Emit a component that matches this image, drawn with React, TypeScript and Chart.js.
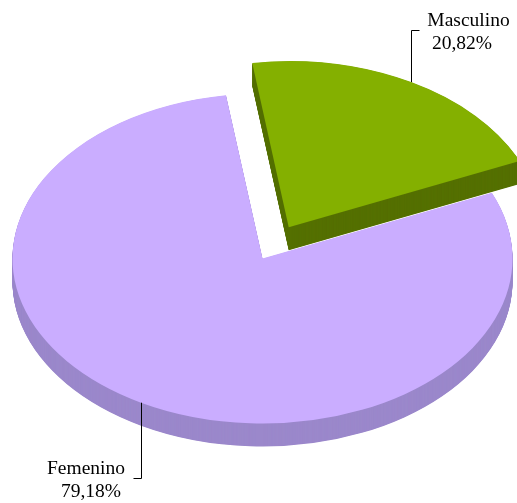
import React, { useEffect, useRef } from "react";
import { Chart, registerables } from "chart.js";

Chart.register(...registerables);

// ---- data ----
const categories = ["Masculino", "Femenino"];
const values = [20.82, 79.18];
const valueLabels = ["20,82%", "79,18%"];

// ---- style ----
const topColors = ["#84B000", "#CAADFF"];
const sideColors = ["#557000", "#9B88CB"];
const explode = [216, 0];
const TILT = 0.66;
const DEPTH = 23;
const FONT = '19.5px "Liberation Serif", "Times New Roman", serif';

const pie3d = {
  id: "pie3d",
  beforeDatasetsDraw(chart: any) {
    const ctx = chart.ctx as CanvasRenderingContext2D;
    const arcs = chart.getDatasetMeta(0).data as any[];
    ctx.save();
    if (!arcs.length) return;
    const cx = arcs[0].x;
    const cy = arcs[0].y;
    ctx.translate(cx, cy);
    ctx.scale(1, TILT);
    ctx.translate(-cx, -cy);
    for (let d = DEPTH; d >= 0.5; d -= 0.5) {
      ctx.save();
      ctx.translate(0, d / TILT);
      arcs.forEach((a, i) => {
        const o = a.options;
        const bg = o.backgroundColor;
        o.backgroundColor = sideColors[i];
        a.draw(ctx);
        o.backgroundColor = bg;
      });
      ctx.restore();
    }
  },
  afterDatasetsDraw(chart: any) {
    const ctx = chart.ctx as CanvasRenderingContext2D;
    ctx.restore();
    const arcs = chart.getDatasetMeta(0).data as any[];
    if (!arcs.length) return;
    const cy = arcs[0].y;
    const area = chart.chartArea;
    ctx.save();
    ctx.strokeStyle = "#000";
    ctx.lineWidth = 1;
    ctx.fillStyle = "#000";
    ctx.font = FONT;
    ctx.textAlign = "center";
    ctx.textBaseline = "alphabetic";
    arcs.forEach((a, i) => {
      const off = (a.options.offset || 0) / 4;
      const fix = 1 - Math.sin(Math.min(Math.PI, a.circumference));
      const r = a.outerRadius + off * fix;
      const h = (a.startAngle + a.endAngle) / 2;
      const px = Math.round(a.x + Math.cos(h) * (off + r)) + 0.5;
      const py = cy + (a.y + Math.sin(h) * (off + r) - cy) * TILT;
      const upper = py < cy;
      const right = Math.cos(h) > 0;
      const endY = upper ? area.top + 16.5 : area.bottom - 24.5;
      const tickX = right ? px + 8 : px - 8;
      ctx.beginPath();
      ctx.moveTo(px, py);
      ctx.lineTo(px, endY);
      ctx.lineTo(tickX, endY);
      ctx.stroke();
      const c1 = right ? px + 57 : px - 55.5;
      const c2 = right ? px + 50.5 : px - 50.5;
      ctx.fillText(categories[i], c1, endY - 5);
      ctx.fillText(valueLabels[i], c2, endY + 18);
    });
    ctx.restore();
  },
};

export default function App() {
  const ref = useRef<HTMLCanvasElement>(null);
  useEffect(() => {
    if (!ref.current) return;
    const chart = new Chart(ref.current, {
      type: "pie",
      data: {
        labels: categories,
        datasets: [
          {
            data: values,
            backgroundColor: topColors,
            borderWidth: 0,
            offset: explode,
            hoverOffset: 0,
            clip: false,
          } as any,
        ],
      },
      options: {
        animation: false,
        responsive: true,
        maintainAspectRatio: false,
        rotation: -8.4,
        radius: 250,
        layout: { padding: { left: 8, top: 14, right: 0, bottom: 0 } },
        events: [],
        plugins: {
          legend: { display: false },
          tooltip: { enabled: false },
        },
      } as any,
      plugins: [pie3d],
    });
    return () => chart.destroy();
  }, []);
  return (
    <div style={{ position: "fixed", left: 0, top: 0, width: 517, height: 503, background: "#fff" }}>
      <canvas ref={ref} />
    </div>
  );
}
